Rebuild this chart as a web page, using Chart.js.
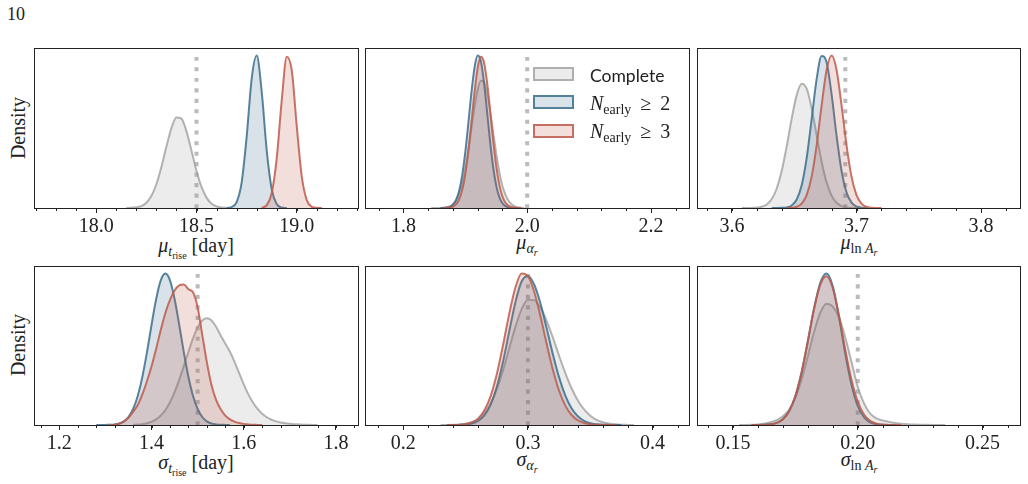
<!DOCTYPE html>
<html>
<head>
<meta charset="utf-8">
<script src="https://cdn.jsdelivr.net/npm/chart.js@4.4.1/dist/chart.umd.min.js"></script>
<style>
  body { margin: 0; background: #fff; }
  #wrap { position: relative; width: 1028px; height: 484px; overflow: hidden;
          font-family: "Liberation Serif", serif; color: #222; }
  #wrap canvas { position: absolute; }
  .lbl { position: absolute; font-size: 20px; line-height: 20px; white-space: nowrap; transform: translateX(-50%); }
  .s1 { font-size: 14px; position: relative; top: 4px; }
  .s2 { font-size: 10px; position: relative; top: 7px; }
  .ylab { position: absolute; width: 160px; height: 24px; line-height: 24px; font-size: 20px;
          text-align: center; transform: rotate(-90deg); }
  .patch { position: absolute; width: 41px; height: 14px; box-sizing: border-box; border: 2px solid; }
  .leg { position: absolute; font-size: 20px; line-height: 20px; white-space: nowrap; }
</style>
</head>
<body>
<div id="wrap">
  <div class="lbl" style="left:7px;top:4px;transform:none;font-size:18px;">10</div>

  <div class="ylab" style="left:-62px;top:116px;">Density</div>
  <div class="ylab" style="left:-62px;top:333px;">Density</div>

  <div class="lbl" style="left:196px;top:235px;"><i>μ</i><span class="s1"><i>t</i></span><span class="s2">rise</span> [day]</div>
  <div class="lbl" style="left:527px;top:232px;"><i>μ</i><span class="s1"><i>α</i></span><span class="s2"><i>r</i></span></div>
  <div class="lbl" style="left:859px;top:232px;"><i>μ</i><span class="s1">ln <i>A</i></span><span class="s2"><i>r</i></span></div>
  <div class="lbl" style="left:196px;top:452px;"><i>σ</i><span class="s1"><i>t</i></span><span class="s2">rise</span> [day]</div>
  <div class="lbl" style="left:527px;top:449px;"><i>σ</i><span class="s1"><i>α</i></span><span class="s2"><i>r</i></span></div>
  <div class="lbl" style="left:859px;top:449px;"><i>σ</i><span class="s1">ln <i>A</i></span><span class="s2"><i>r</i></span></div>
</div>
<script>
// posterior densities, one shared x grid per panel
const muTriseX = [18.150,18.175,18.200,18.225,18.250,18.275,18.300,18.325,18.350,18.375,18.400,18.425,18.450,18.475,18.500,18.525,18.550,18.575,18.600,18.625,18.650,18.675,18.700,18.725,18.750,18.775,18.800,18.825,18.850,18.875,18.900,18.925,18.950,18.975,19.000,19.025,19.050,19.075,19.100,19.125,19.150];
const muTriseComplete = [0.00,0.01,0.05,0.13,0.35,0.80,1.58,2.73,4.09,5.32,6.03,5.95,5.10,3.81,2.47,1.40,0.69,0.29,0.11,0.04,0.01,null,null,null,null,null,null,null,null,null,null,null,null,null,null,null,null,null,null,null,null];
const muTriseN2 = [null,null,null,null,null,null,null,null,null,null,null,null,null,null,null,null,null,null,null,null,0.00,0.06,0.39,1.69,4.73,8.60,10.14,7.75,3.84,1.24,0.26,0.03,0.00,null,null,null,null,null,null,null,null];
const muTriseN3 = [null,null,null,null,null,null,null,null,null,null,null,null,null,null,null,null,null,null,null,null,null,null,null,null,null,null,null,0.02,0.19,1.00,3.32,7.18,10.07,9.15,5.40,2.07,0.51,0.08,0.01,0.00,null];

const muAlphaX = [1.845,1.850,1.855,1.860,1.865,1.870,1.875,1.880,1.885,1.890,1.895,1.900,1.905,1.910,1.915,1.920,1.925,1.930,1.935,1.940,1.945,1.950,1.955,1.960,1.965,1.970,1.975,1.980,1.985,1.990,1.995];
const muAlphaComplete = [0.00,0.00,0.00,0.02,0.05,0.12,0.28,0.63,1.29,2.45,4.27,6.87,10.21,13.98,17.68,20.60,22.16,21.98,20.11,16.97,13.22,9.49,6.29,3.84,2.30,1.25,0.62,0.29,0.12,0.04,0.01];
const muAlphaN2 = [null,null,null,0.00,0.02,0.07,0.21,0.57,1.38,2.96,5.68,9.72,14.83,20.18,24.50,26.54,25.65,22.11,17.00,11.66,7.14,3.90,1.90,0.83,0.32,0.11,0.03,0.01,0.00,null,null];
const muAlphaN3 = [null,null,null,null,0.00,0.02,0.08,0.24,0.63,1.48,3.12,5.88,9.91,14.94,20.17,24.37,26.34,25.48,22.05,17.08,11.83,7.34,4.07,2.02,0.90,0.36,0.13,0.04,0.01,0.00,null];

const muLnAX = [3.608,3.612,3.616,3.620,3.624,3.628,3.632,3.636,3.640,3.644,3.648,3.652,3.656,3.660,3.664,3.668,3.672,3.676,3.680,3.684,3.688,3.692,3.696,3.700,3.704,3.708,3.712,3.716,3.720];
const muLnAComplete = [0.00,0.01,0.03,0.11,0.37,1.05,2.64,5.76,10.97,18.23,26.40,33.34,36.70,35.22,29.46,21.49,13.67,7.57,3.66,1.54,0.57,0.18,0.05,0.01,null,null,null,null,null];
const muLnAN2 = [null,null,null,null,null,null,0.00,0.00,0.04,0.18,0.75,2.49,6.70,14.71,26.23,38.04,44.88,43.07,33.60,21.34,11.01,4.62,1.58,0.44,0.10,0.02,null,null,null];
const muLnAN3 = [null,null,null,null,null,null,null,null,null,0.00,0.08,0.36,1.29,3.81,9.26,18.50,30.32,40.77,45.00,40.77,30.32,18.50,9.26,3.81,1.29,0.36,0.08,0.02,0.00];

const sdTriseX = [1.28,1.29,1.30,1.31,1.32,1.33,1.34,1.35,1.36,1.37,1.38,1.39,1.40,1.41,1.42,1.43,1.44,1.45,1.46,1.47,1.48,1.49,1.50,1.51,1.52,1.53,1.54,1.55,1.56,1.57,1.58,1.59,1.60,1.61,1.62,1.63,1.64,1.65,1.66,1.67,1.68,1.69,1.70,1.71,1.72,1.73,1.74,1.75,1.76,1.77];
const sdTriseComplete = [null,null,null,null,null,null,null,null,0.02,0.04,0.07,0.14,0.26,0.45,0.76,1.20,1.82,2.63,3.61,4.71,5.85,6.92,7.79,8.35,8.52,8.35,7.85,7.15,6.50,5.85,5.05,4.15,3.25,2.45,1.80,1.28,0.90,0.62,0.42,0.29,0.20,0.14,0.10,0.07,0.05,0.03,0.02,0.01,0.00,null];
const sdTriseN2 = [0.00,0.00,0.01,0.02,0.05,0.12,0.29,0.64,1.28,2.32,3.84,5.80,8.01,10.07,11.56,12.10,11.56,10.07,8.01,5.80,3.84,2.32,1.28,0.64,0.29,0.12,0.05,0.02,0.01,0.00,null,null,null,null,null,null,null,null,null,null,null,null,null,null,null,null,null,null,null,null];
const sdTriseN3 = [null,null,null,0.00,0.03,0.10,0.28,0.60,1.05,1.60,2.45,3.50,4.70,6.10,7.60,8.95,10.00,10.75,11.15,11.22,10.85,10.60,9.40,7.20,5.00,3.20,2.00,1.25,0.75,0.45,0.27,0.16,0.09,0.05,0.02,0.01,0.00,null,null,null,null,null,null,null,null,null,null,null,null,null];

const sdAlphaX = [0.230,0.235,0.240,0.245,0.250,0.255,0.260,0.265,0.270,0.275,0.280,0.285,0.290,0.295,0.300,0.305,0.310,0.315,0.320,0.325,0.330,0.335,0.340,0.345,0.350,0.355,0.360,0.365,0.370,0.375,0.380,0.385];
const sdAlphaComplete = [0.00,0.01,0.03,0.08,0.20,0.47,1.01,2.00,3.62,6.04,9.22,12.92,16.60,19.57,21.15,21.08,19.81,17.59,14.75,11.69,8.76,6.20,4.14,2.62,1.56,0.88,0.47,0.24,0.11,0.05,0.02,0.00];
const sdAlphaN2 = [null,0.00,0.00,0.02,0.08,0.25,0.68,1.61,3.41,6.40,10.68,15.80,20.78,24.26,25.16,23.71,20.54,16.35,11.96,8.04,4.97,2.82,1.47,0.71,0.31,0.13,0.05,0.02,0.01,0.00,null,null];
const sdAlphaN3 = [null,0.00,0.01,0.05,0.15,0.43,1.08,2.43,4.84,8.56,13.45,18.76,23.24,25.56,25.13,22.50,18.39,13.71,9.32,5.78,3.27,1.69,0.80,0.34,0.13,0.05,0.02,0.01,0.00,null,null,null];

const sdLnAX = [0.1525,0.1550,0.1575,0.1600,0.1625,0.1650,0.1675,0.1700,0.1725,0.1750,0.1775,0.1800,0.1825,0.1850,0.1875,0.1900,0.1925,0.1950,0.1975,0.2000,0.2025,0.2050,0.2075,0.2100,0.2125,0.2150,0.2175,0.2200,0.2225,0.2250,0.2275,0.2300,0.2325,0.2350];
const sdLnAComplete = [0.00,0.02,0.08,0.25,0.55,1.10,2.00,3.50,6.20,10.98,18.50,27.90,37.68,45.51,49.19,48.00,43.50,35.50,25.50,15.50,8.80,4.60,2.70,1.80,1.25,0.85,0.55,0.35,0.22,0.13,0.08,0.04,0.02,0.00];
const sdLnAN2 = [null,null,0.00,0.02,0.08,0.27,0.85,2.33,5.57,11.63,21.27,33.97,47.36,57.69,61.40,56.24,43.77,28.97,16.29,7.79,3.17,1.09,0.32,0.08,0.02,0.00,null,null,null,null,null,null,null,null];
const sdLnAN3 = [null,null,0.00,0.02,0.08,0.28,0.87,2.37,5.65,11.75,21.35,33.87,47.00,56.95,60.27,55.46,44.20,30.52,18.27,9.47,4.25,1.65,0.56,0.16,0.04,0.01,0.00,null,null,null,null,null,null,null];

// true values (dotted lines)
const truths = [18.5, 2.0, 3.691, 1.5, 0.3, 0.2];
// axis ranges and tick labels
const xMins = [17.69, 1.738, 3.572, 1.145, 0.1693, 0.1356];
const xMaxs = [19.31, 2.263, 3.832, 1.850, 0.4300, 0.2654];
const majorTicks = [[18.0, 18.5, 19.0], [1.8, 2.0, 2.2], [3.6, 3.7, 3.8], [1.2, 1.4, 1.6, 1.8], [0.2, 0.3, 0.4], [0.15, 0.20, 0.25]];
const minorSteps = [0.1, 0.04, 0.02, 0.04, 0.02, 0.01];
const tickDecimals = [1, 1, 1, 1, 1, 2];

const seriesNames = ['Complete', 'N_early >= 2', 'N_early >= 3'];
const lineColors = ['rgba(160,160,160,0.8)', 'rgba(60,110,140,0.85)', 'rgba(190,90,75,0.85)'];
const fillColors = ['rgba(160,160,160,0.2)', 'rgba(60,110,140,0.2)', 'rgba(190,90,75,0.2)'];

const panels = [
  {xs: muTriseX, ys: [muTriseComplete, muTriseN2, muTriseN3], left: 34, top: 48, w: 325, h: 160},
  {xs: muAlphaX, ys: [muAlphaComplete, muAlphaN2, muAlphaN3], left: 365, top: 48, w: 325, h: 160},
  {xs: muLnAX, ys: [muLnAComplete, muLnAN2, muLnAN3], left: 697, top: 48, w: 324, h: 160},
  {xs: sdTriseX, ys: [sdTriseComplete, sdTriseN2, sdTriseN3], left: 34, top: 266, w: 325, h: 159},
  {xs: sdAlphaX, ys: [sdAlphaComplete, sdAlphaN2, sdAlphaN3], left: 365, top: 266, w: 325, h: 159},
  {xs: sdLnAX, ys: [sdLnAComplete, sdLnAN2, sdLnAN3], left: 697, top: 266, w: 324, h: 159}
];

// frame around the axes + short minor ticks
const frameTicks = {
  id: 'frameTicks',
  afterDraw(chart, args, opts) {
    const ctx = chart.ctx, a = chart.chartArea, sx = chart.scales.x;
    ctx.save();
    ctx.strokeStyle = '#222';
    ctx.lineWidth = 1;
    ctx.beginPath();
    const n0 = Math.ceil(sx.min / opts.step - 1e-6);
    for (let i = n0; i * opts.step <= sx.max + 1e-9; i++) {
      const px = Math.round(sx.getPixelForValue(i * opts.step)) + 0.5;
      ctx.moveTo(px, a.bottom);
      ctx.lineTo(px, a.bottom + 3);
    }
    ctx.stroke();
    ctx.strokeRect(a.left + 0.5, a.top + 0.5, a.right - a.left - 1, a.bottom - a.top);
    ctx.restore();
  }
};

const wrap = document.getElementById('wrap');

panels.forEach(function (p, k) {
  const canvas = document.createElement('canvas');
  canvas.width = p.w + 8;
  canvas.height = p.h + 44;
  canvas.style.left = (p.left - 4) + 'px';
  canvas.style.top = (p.top - 4) + 'px';
  wrap.appendChild(canvas);

  var peak = 0;
  p.ys.forEach(function (ys) { ys.forEach(function (v) { if (v !== null && v > peak) peak = v; }); });

  const datasets = p.ys.map(function (ys, s) {
    return {
      label: seriesNames[s],
      data: p.xs.map(function (x, i) { return {x: x, y: ys[i]}; }),
      borderColor: lineColors[s],
      backgroundColor: fillColors[s],
      borderWidth: 2,
      fill: 'origin',
      order: 3 - s
    };
  });
  datasets.push({
    label: 'truth',
    data: [{x: truths[k], y: 0}, {x: truths[k], y: peak}],
    borderColor: '#bbbbbb',
    borderWidth: 4,
    borderDash: [4, 6.5],
    fill: false,
    order: 4
  });

  new Chart(canvas.getContext('2d'), {
    type: 'line',
    data: {datasets: datasets},
    options: {
      responsive: false,
      animation: false,
      devicePixelRatio: 1,
      layout: {padding: {left: 4, right: 4, top: 4, bottom: 0}},
      elements: {point: {radius: 0}, line: {cubicInterpolationMode: 'monotone'}},
      plugins: {
        legend: {display: false},
        tooltip: {enabled: false},
        filler: {drawTime: 'beforeDatasetDraw'},
        frameTicks: {step: minorSteps[k]}
      },
      scales: {
        x: {
          type: 'linear',
          min: xMins[k],
          max: xMaxs[k],
          afterBuildTicks: function (s) { s.ticks = majorTicks[k].map(function (v) { return {value: v}; }); },
          afterFit: function (s) { s.height = 40; },
          border: {display: false},
          grid: {drawOnChartArea: false, drawTicks: true, tickLength: 5, tickColor: '#222', tickWidth: 1},
          ticks: {
            autoSkip: false, maxRotation: 0, padding: 2, color: '#222',
            font: {family: '"Liberation Serif", "DejaVu Serif", serif', size: 20},
            callback: function (v) { return Number(v).toFixed(tickDecimals[k]); }
          }
        },
        y: {display: false, min: 0, max: peak * 1.05}
      }
    },
    plugins: [frameTicks]
  });
});

// legend in the middle top panel
const legendRows = [
  {top: 67, html: '<span style="font-family:Lato,sans-serif;font-size:17.5px;">Complete</span>', textTop: 65},
  {top: 95, html: '<i>N</i><span class="s1">early</span>&thinsp; ≥ &thinsp;2', textTop: 93},
  {top: 124, html: '<i>N</i><span class="s1">early</span>&thinsp; ≥ &thinsp;3', textTop: 121}
];
legendRows.forEach(function (r, s) {
  const box = document.createElement('div');
  box.className = 'patch';
  box.style.left = '533px';
  box.style.top = r.top + 'px';
  box.style.borderColor = lineColors[s];
  box.style.background = fillColors[s];
  wrap.appendChild(box);
  const t = document.createElement('div');
  t.className = 'leg';
  t.style.left = '590px';
  t.style.top = r.textTop + 'px';
  t.innerHTML = r.html;
  wrap.appendChild(t);
});
</script>
</body>
</html>
